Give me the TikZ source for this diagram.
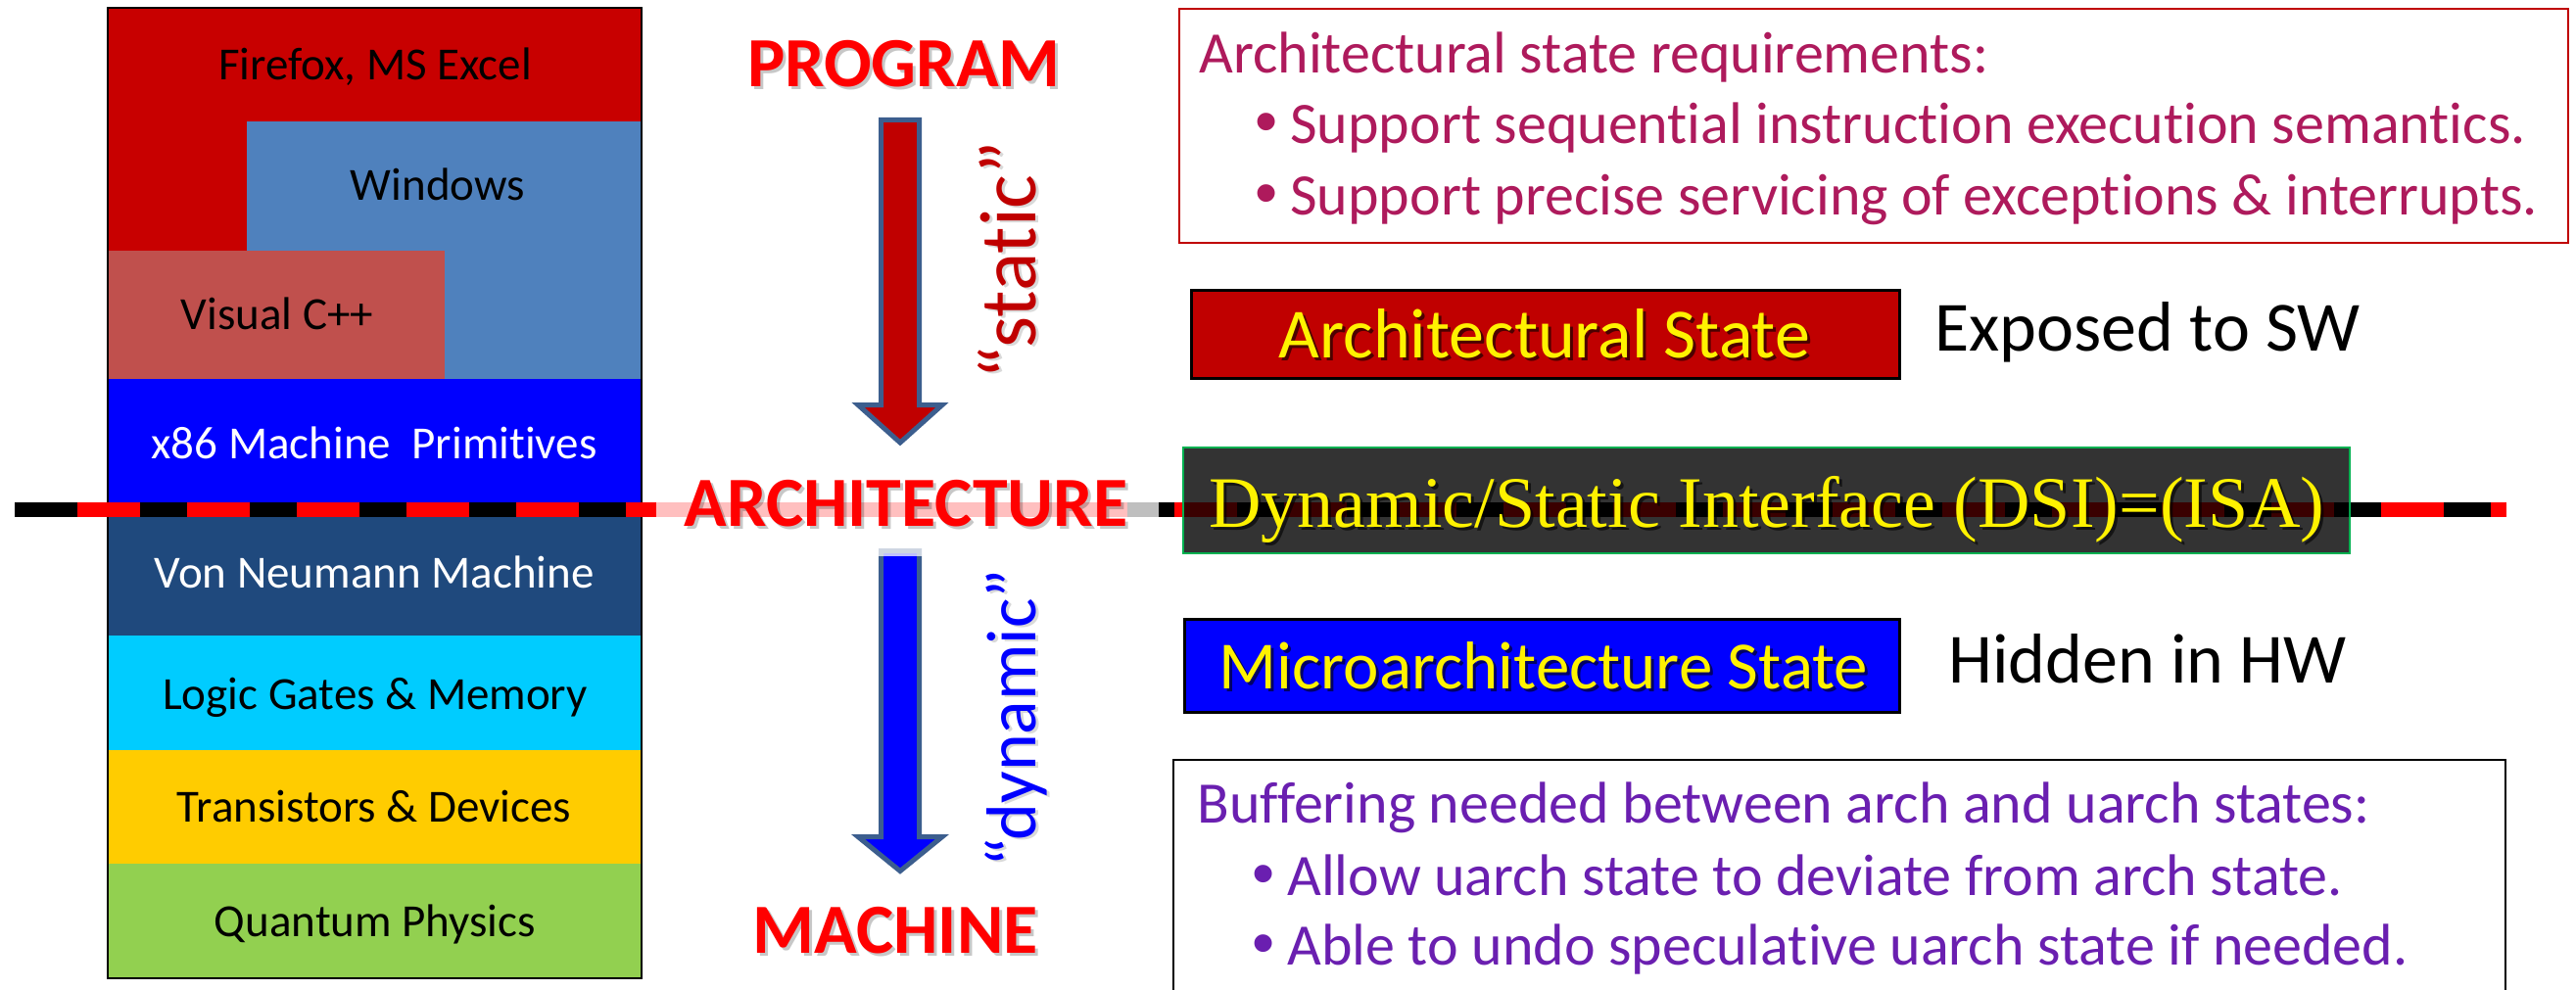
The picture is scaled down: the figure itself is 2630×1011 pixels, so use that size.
\documentclass[tikz,border=0pt]{standalone}
\usepackage{fontspec}
\setmainfont{Carlito}[RawFeature={-liga,-clig,-calt,-dlig}]
\newfontfamily\serifface{Liberation Serif}
\newfontfamily\dotface{Liberation Sans}
\definecolor{appred}{HTML}{C80000}
\definecolor{winblue}{HTML}{4F81BD}
\definecolor{vcred}{HTML}{C0504D}
\definecolor{isablue}{HTML}{0000FF}
\definecolor{vnblue}{HTML}{1F497D}
\definecolor{gatecyan}{HTML}{00CCFF}
\definecolor{devyellow}{HTML}{FFCC00}
\definecolor{physgreen}{HTML}{92D050}
\definecolor{labred}{HTML}{FF0000}
\definecolor{archred}{HTML}{C00000}
\definecolor{arrowedge}{HTML}{3C5E8E}
\definecolor{reqcolor}{HTML}{AE1A5C}
\definecolor{bufcolor}{HTML}{6A1FB0}
\definecolor{dsigray}{HTML}{333333}
\definecolor{dsigreen}{HTML}{00B050}
\definecolor{dimred}{HTML}{3A0000}
\definecolor{pinkband}{HTML}{FFBFBF}
\definecolor{grayband}{HTML}{BFBFBF}
\begin{document}
\begin{tikzpicture}[x=0.5pt,y=-0.5pt,
  layertext/.style={inner sep=0pt, anchor=base, font=\fontsize{23.5}{28}\selectfont},
  bigword/.style={inner sep=0pt, anchor=base, font=\bfseries\fontsize{36}{43}\selectfont, text=labred},
  bigshade/.style={bigword, text=black, opacity=0.22},
  sideword/.style={inner sep=0pt, anchor=base, rotate=90, font=\fontsize{36}{43}\selectfont},
  sideshade/.style={sideword, text=black, opacity=0.15},
  statetext/.style={inner sep=0pt, anchor=base, font=\fontsize{36}{43}\selectfont, text=yellow},
  stateshade/.style={statetext, text=black, opacity=0.6},
  notetext/.style={inner sep=0pt, anchor=base west, font=\fontsize{30}{36}\selectfont},
  notedot/.style={inner sep=0pt, anchor=base west, font=\dotface\fontsize{33}{36}\selectfont},
  plaintext/.style={inner sep=0pt, anchor=base west, font=\fontsize{36}{43}\selectfont, text=black},
  fatarrow/.style={draw=arrowedge, line width=2.5pt, line join=miter},
  bandline/.style={line width=7.5pt},
  banddash/.style={line width=7.5pt, dash pattern=on 32pt off 24pt}
]
% canvas
\useasboundingbox (0,0) rectangle (2630,1011);
\fill[white] (0,0) rectangle (2630,1011);

% ---------- abstraction stack ----------
\fill[appred] (110,8) rectangle (655,387);
\fill[winblue] (252,124) rectangle (655,387);
\fill[vcred] (110,256) rectangle (454,387);
\fill[isablue] (110,387) rectangle (655,520);
\fill[vnblue] (110,520) rectangle (655,649);
\fill[gatecyan] (110,649) rectangle (655,766);
\fill[devyellow] (110,766) rectangle (655,882);
\fill[physgreen] (110,882) rectangle (655,999);
\draw[black, line width=1.2pt] (110,8) rectangle (655,999);

\node[layertext] (firefox) at (383,82) {Firefox, MS Excel};
\node[layertext] (windows) at (447,205) {Windows};
\node[layertext] (visualc) at (283,336) {Visual C++};
\node[layertext, text=white] (x86) at (382,468) {x86 Machine\ \ Primitives};
\node[layertext, text=white] (vonneumann) at (382,600) {Von Neumann Machine};
\node[layertext] (logic) at (383,724) {Logic Gates \& Memory};
\node[layertext] (transistors) at (382,839) {Transistors \& Devices};
\node[layertext] (quantum) at (383,956) {Quantum Physics};

% ---------- the interface line ----------
\draw[bandline, black] (15,520) -- (670,520);
\draw[banddash, labred] (79,520) -- (670,520);
\draw[bandline, pinkband] (670,520) -- (1151,520);
\draw[bandline, grayband] (1151,520) -- (1183,520);
\draw[bandline, black] (1183,520) -- (2559,520);
\draw[banddash, labred] (1199,520) -- (2559,520);

% ---------- program / architecture / machine ----------
\node[bigshade] (programshade) at (926,92) {PROGRAM};
\node[bigword] (program) at (923,89) {PROGRAM};
\node[bigshade] (archshade) at (928,540) {ARCHITECTURE};
\node[bigword] (architecture) at (925,537) {ARCHITECTURE};
\node[bigshade] (machineshade) at (917,976) {MACHINE};
\node[bigword] (machine) at (914,973) {MACHINE};

\draw[fatarrow, fill=archred] (899.5,122.5) -- (938.5,122.5) -- (938.5,413.5)
  -- (962,413.5) -- (919,452) -- (876,413.5) -- (899.5,413.5) -- cycle;
\draw[fatarrow, fill=isablue] (899.5,562.5) -- (938.5,562.5) -- (938.5,854.5)
  -- (962,854.5) -- (919,889.5) -- (876,854.5) -- (899.5,854.5) -- cycle;
\fill[white, opacity=0.75] (896,559) rectangle (942,568);

\node[sideshade, font=\fontsize{41}{48}\selectfont] (staticshade) at (1060,268) {“static”};
\node[sideword, font=\fontsize{41}{48}\selectfont, text=archred] (static) at (1057,266) {“static”};
\node[sideshade] (dynamicshade) at (1060,735) {“dynamic”};
\node[sideword, text=isablue] (dynamic) at (1057,733) {“dynamic”};

% ---------- architectural state requirements ----------
\draw[archred, line width=1.2pt] (1204,9) rectangle (2622,248);
\node[notetext, text=reqcolor] (reqhead) at (1224,75) {Architectural state requirements:};
\node[notedot, text=reqcolor] (reqdotA) at (1281,147) {•};
\node[notetext, text=reqcolor] (reqA) at (1317,147) {Support sequential instruction execution semantics.};
\node[notedot, text=reqcolor] (reqdotB) at (1281,220) {•};
\node[notetext, text=reqcolor] (reqB) at (1317,220) {Support precise servicing of exceptions \& interrupts.};

% ---------- architectural state ----------
\draw[fill=archred, draw=black, line width=1.5pt] (1216,296) rectangle (1939,386);
\node[stateshade] (archstateshade) at (1580,368) {Architectural State};
\node[statetext] (archstate) at (1577,365) {Architectural State};
\node[plaintext] (exposed) at (1975,358) {Exposed to SW};

% ---------- dynamic/static interface ----------
\draw[fill=dsigray, draw=dsigreen, line width=1.2pt] (1208,457) rectangle (2399,565);
\begin{scope}
  \clip (1209,458) rectangle (2398,564);
  \draw[bandline, black] (1199,520) -- (2399,520);
  \draw[banddash, dimred] (1199,520) -- (2399,520);
\end{scope}
\node[statetext, font=\serifface\fontsize{37}{44}\selectfont, text=black, opacity=0.6] (dsishade) at (1807,541) {Dynamic/Static Interface (DSI)=(ISA)};
\node[statetext, font=\serifface\fontsize{37}{44}\selectfont] (dsi) at (1804,538) {Dynamic/Static Interface (DSI)=(ISA)};

% ---------- microarchitecture state ----------
\draw[fill=isablue, draw=black, line width=1.5pt] (1209,632) rectangle (1939,727);
\node[stateshade, font=\fontsize{34.5}{41}\selectfont] (uarchstateshade) at (1579,706) {Microarchitecture State};
\node[statetext, font=\fontsize{34.5}{41}\selectfont] (uarchstate) at (1576,703) {Microarchitecture State};
\node[plaintext] (hidden) at (1989,697) {Hidden in HW};

% ---------- buffering ----------
\draw[black, line width=1.2pt] (1198,1011) -- (1198,776) -- (2558,776) -- (2558,1011);
\node[notetext, text=bufcolor] (bufhead) at (1222,840) {Buffering needed between arch and uarch states:};
\node[notedot, text=bufcolor] (bufdotA) at (1278,914) {•};
\node[notetext, text=bufcolor] (bufA) at (1314,914) {Allow uarch state to deviate from arch state.};
\node[notedot, text=bufcolor] (bufdotB) at (1278,985) {•};
\node[notetext, text=bufcolor] (bufB) at (1314,985) {Able to undo speculative uarch state if needed.};
\end{tikzpicture}
\end{document}
